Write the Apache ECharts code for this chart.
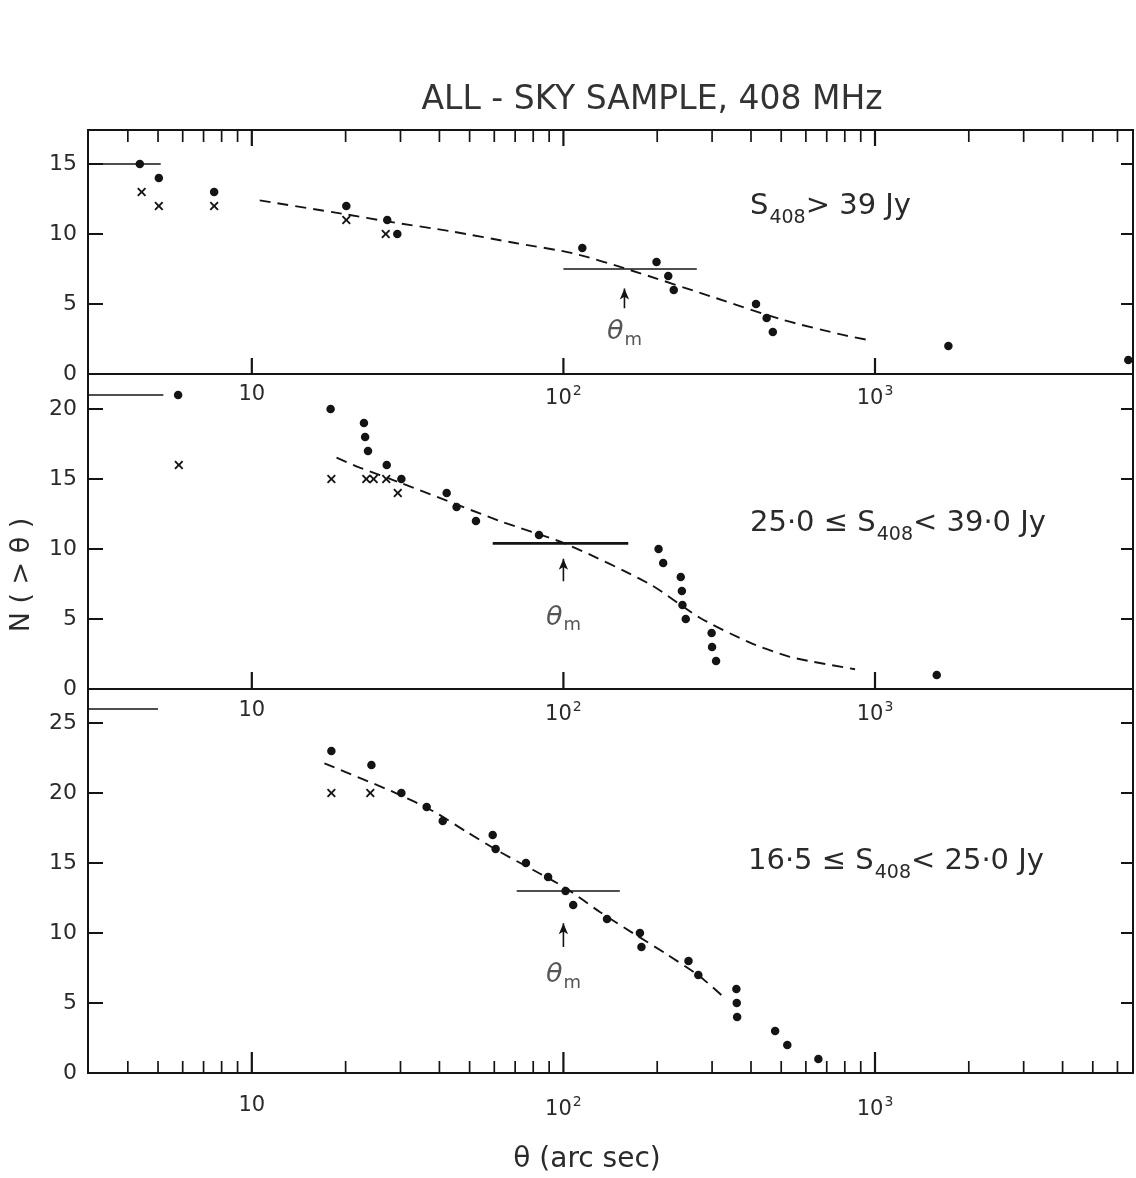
<!DOCTYPE html>
<html>
<head>
<meta charset="utf-8">
<title>All-sky sample, 408 MHz</title>
<script src="https://cdn.jsdelivr.net/npm/echarts@6/dist/echarts.min.js"></script>
<style>
  html, body { margin: 0; padding: 0; background: #ffffff; }
  #chart { width: 1136px; height: 1178px; }
</style>
</head>
<body>
<div id="chart"></div>
<script>
// Cumulative angular-size counts N(>θ) for the all-sky sample at 408 MHz,
// split into three flux-density bins (one panel each, shared log θ axis).

// ---- x-axis tick values (arc sec) ----
const xTickMajor = [10, 100, 1000];
const xTickMinor = [4, 5, 6, 7, 8, 9, 20, 30, 40, 50, 60, 70, 80, 90,
                    200, 300, 400, 500, 600, 700, 800, 900,
                    2000, 3000, 4000, 5000, 6000];

// ---- Panel 1: S408 > 39 Jy ----
const p1Dots = [[4.37, 15], [5.03, 14], [7.57, 13], [20.1, 12], [27.2, 11], [29.3, 10],
                [115, 9], [199, 8], [217, 7], [226, 6], [415, 5], [449, 4], [470, 3],
                [1720, 2], [6500, 1]];
const p1Crosses = [[4.43, 13], [5.03, 12], [7.57, 12], [20.1, 11], [26.9, 10]];
const p1Fit = [[10.6, 12.4], [20.1, 11.4], [27.2, 10.9], [43.3, 10.2], [70.8, 9.34],
               [107.5, 8.62], [163.5, 7.43], [310, 5.41], [508, 3.86], [790, 2.79],
               [951, 2.43]];
const p1Total = [[2.98, 15], [5.1, 15]];
const p1Bar = [[100, 7.5], [268, 7.5]];
const p1ThetaM = 157;

// ---- Panel 2: 25.0 <= S408 < 39.0 Jy ----
const p2Dots = [[5.8, 21], [17.9, 20], [22.9, 19], [23.1, 18], [23.6, 17], [27.1, 16],
                [30.2, 15], [42.2, 14], [45.4, 13], [52.4, 12], [83.5, 11], [202, 10],
                [209, 9], [238, 8], [240, 7], [241, 6], [247, 5], [299, 4], [300, 3],
                [309, 2], [1578, 1]];
const p2Crosses = [[5.83, 16], [18.0, 15], [23.3, 15], [24.6, 15], [27.0, 15], [29.4, 14]];
const p2Fit = [[18.7, 16.52], [22.2, 15.81], [29.9, 14.74], [62.5, 12.0], [102.4, 10.34],
               [189.6, 7.48], [274, 5.09], [397, 3.31], [533, 2.3], [631, 1.95], [863, 1.41]];
const p2Total = [[2.98, 21], [5.2, 21]];
const p2Bar = [[59.3, 10.4], [161.5, 10.4]];
const p2ThetaM = 100;

// ---- Panel 3: 16.5 <= S408 < 25.0 Jy ----
const p3Dots = [[18.0, 23], [24.2, 22], [30.2, 20], [36.4, 19], [41.0, 18], [59.3, 17],
                [60.6, 16], [75.8, 15], [89.3, 14], [101.6, 13], [107.5, 12], [138, 11],
                [176, 10], [178, 9], [252, 8], [271, 7], [359, 6], [360, 5], [361, 4],
                [478, 3], [523, 2], [658, 1]];
const p3Crosses = [[18.0, 20], [24.0, 20]];
const p3Fit = [[17.1, 22.12], [29.1, 19.98], [38.2, 18.7], [48.8, 17.24], [62.5, 15.8],
               [80, 14.5], [102, 13.19], [131, 11.5], [167.5, 9.98], [214, 8.5],
               [274, 6.9], [326, 5.45]];
const p3Total = [[2.98, 26], [5.0, 26]];
const p3Bar = [[70.8, 13.0], [151.7, 13.0]];
const p3ThetaM = 100;

// ---- styling ----
const FONT = 'DejaVu Sans';
const INK = '#141414';
const TXT = '#2a2a2a';
const X_MIN = 2.98, X_MAX = 6730;
const CROSS = 'path://M0,1.5L1.5,0L5,3.5L8.5,0L10,1.5L6.5,5L10,8.5L8.5,10L5,6.5L1.5,10L0,8.5L3.5,5Z';

const panels = [
  { top: 130, height: 244, yMax: 17.43, dots: p1Dots, crosses: p1Crosses, fit: p1Fit,
    total: p1Total, bar: p1Bar, thetaM: p1ThetaM, arrow: [4.7, 6.1], mLabelY: 3.0,
    labelMargin: 10, barWidth: 1.6, topTicks: true, bottomMinor: false, majorLen: 16 },
  { top: 374, height: 315, yMax: 22.5, dots: p2Dots, crosses: p2Crosses, fit: p2Fit,
    total: p2Total, bar: p2Bar, thetaM: p2ThetaM, arrow: [7.7, 9.3], mLabelY: 5.1,
    labelMargin: 11, barWidth: 2.6, topTicks: false, bottomMinor: false, majorLen: 17 },
  { top: 689, height: 384, yMax: 27.43, dots: p3Dots, crosses: p3Crosses, fit: p3Fit,
    total: p3Total, bar: p3Bar, thetaM: p3ThetaM, arrow: [9.0, 10.7], mLabelY: 7.0,
    labelMargin: 22, barWidth: 1.6, topTicks: false, bottomMinor: true, majorLen: 21 }
];

function xLabel(v) {
  const lg = Math.log10(v);
  const e = Math.round(lg);
  if (Math.abs(lg - e) > 1e-6 || e < 1) return '';
  return e === 1 ? '10' : '10{sup|' + e + '}';
}

const grid = [], xAxis = [], yAxis = [], series = [];

panels.forEach((p, i) => {
  grid.push({
    left: 88, width: 1045, top: p.top, height: p.height,
    show: true, borderColor: INK, borderWidth: 2, backgroundColor: 'transparent',
    containLabel: false, outerBoundsMode: 'none'
  });
  xAxis.push({
    gridIndex: i, type: 'log', logBase: 10, min: X_MIN, max: X_MAX, position: 'bottom',
    axisLine: { show: false }, axisTick: { show: false }, splitLine: { show: false },
    minorTick: { show: false }, minorSplitLine: { show: false },
    axisLabel: {
      margin: p.labelMargin, color: TXT, fontSize: 21, fontFamily: FONT,
      formatter: xLabel, hideOverlap: false,
      rich: { sup: { fontSize: 14, fontFamily: FONT, color: TXT, padding: [0, 0, 16, 1] } }
    }
  });
  const yCommon = { gridIndex: i, type: 'value', min: 0, max: p.yMax, interval: 5,
                    splitLine: { show: false }, axisLine: { show: false } };
  yAxis.push(Object.assign({}, yCommon, {
    position: 'left',
    axisTick: { show: true, inside: true, length: 15, lineStyle: { color: INK, width: 2 } },
    axisLabel: { margin: 11, color: TXT, fontSize: 22, fontFamily: FONT,
                 showMaxLabel: false, hideOverlap: false }
  }));
  yAxis.push(Object.assign({}, yCommon, {
    position: 'right',
    axisTick: { show: true, inside: true, length: 12, lineStyle: { color: INK, width: 2 } },
    axisLabel: { show: false }
  }));

  const xi = i, yi = 2 * i;

  // x-axis tick marks drawn on the panel edges
  const ticks = [];
  xTickMajor.forEach(v => ticks.push([v, 0]));
  if (p.bottomMinor) xTickMinor.forEach(v => ticks.push([v, 0]));
  if (p.topTicks) {
    xTickMajor.forEach(v => ticks.push([v, 1]));
    xTickMinor.forEach(v => ticks.push([v, 1]));
  }
  series.push({
    type: 'custom', xAxisIndex: xi, yAxisIndex: yi, silent: true, clip: false,
    data: ticks,
    renderItem: (params, api) => {
      const v = api.value(0), edge = api.value(1);
      const cs = params.coordSys;
      const px = api.coord([v, 0])[0];
      const major = xTickMajor.indexOf(v) >= 0;
      const len = major ? p.majorLen : 12;
      const y0 = edge === 1 ? cs.y : cs.y + cs.height;
      const y1 = edge === 1 ? y0 + len : y0 - len;
      return { type: 'line', shape: { x1: px, y1: y0, x2: px, y2: y1 },
               style: { stroke: INK, lineWidth: major ? 2.2 : 1.7 } };
    }
  });

  // fitted curve
  series.push({
    type: 'line', xAxisIndex: xi, yAxisIndex: yi, data: p.fit, smooth: 0.25,
    symbol: 'none', silent: true,
    lineStyle: { color: INK, width: 1.9, type: [11, 7] }
  });
  // total-count marker line at the left edge
  series.push({
    type: 'line', xAxisIndex: xi, yAxisIndex: yi, data: p.total, symbol: 'none', silent: true,
    lineStyle: { color: INK, width: 1.5 }
  });
  // median-size bar
  series.push({
    type: 'line', xAxisIndex: xi, yAxisIndex: yi, data: p.bar, symbol: 'none', silent: true,
    lineStyle: { color: INK, width: p.barWidth }
  });
  // arrow marking θm
  series.push({
    type: 'line', xAxisIndex: xi, yAxisIndex: yi, silent: true, showSymbol: true,
    data: [
      { value: [p.thetaM, p.arrow[0]], symbol: 'none' },
      { value: [p.thetaM, p.arrow[1]], symbol: 'arrow', symbolSize: [7, 11] }
    ],
    lineStyle: { color: INK, width: 1.6 }, itemStyle: { color: INK, opacity: 1 }
  });
  // θm label
  series.push({
    type: 'scatter', xAxisIndex: xi, yAxisIndex: yi, silent: true,
    data: [[p.thetaM, p.mLabelY]], symbolSize: 0,
    label: {
      show: true, position: 'inside', formatter: '{t|θ}{s|m}',
      rich: {
        t: { fontSize: 27, fontStyle: 'italic', fontFamily: FONT, color: TXT },
        s: { fontSize: 18, fontFamily: FONT, color: TXT, padding: [16, 0, 0, 1] }
      }
    }
  });
  // sources
  series.push({
    type: 'scatter', xAxisIndex: xi, yAxisIndex: yi, data: p.dots, silent: true,
    symbol: 'circle', symbolSize: 8.5, itemStyle: { color: INK, opacity: 1 }
  });
  series.push({
    type: 'scatter', xAxisIndex: xi, yAxisIndex: yi, data: p.crosses, silent: true,
    symbol: CROSS, symbolSize: 9, itemStyle: { color: INK, opacity: 1 }
  });
});

const richMain = { fontSize: 29, fontFamily: FONT, fill: TXT };
const richSub = { fontSize: 19, fontFamily: FONT, fill: TXT, padding: [24, 0, 0, 1] };

function panelText(x, y, text) {
  return {
    type: 'text', x: x, y: y, silent: true,
    style: { text: text, textAlign: 'left', textVerticalAlign: 'middle',
             rich: { a: richMain, b: richSub } }
  };
}

const option = {
  backgroundColor: '#ffffff',
  animation: false,
  grid: grid, xAxis: xAxis, yAxis: yAxis, series: series,
  graphic: [
    { type: 'text', x: 652, y: 100, silent: true,
      style: { text: 'ALL - SKY SAMPLE, 408 MHz', fontSize: 33, fontFamily: FONT, fill: '#333',
               textAlign: 'center', textVerticalAlign: 'middle' } },
    panelText(750, 206, '{a|S}{b|408}{a|> 39 Jy}'),
    panelText(750, 523, '{a|25·0 ≤ S}{b|408}{a|< 39·0 Jy}'),
    panelText(748, 861, '{a|16·5 ≤ S}{b|408}{a|< 25·0 Jy}'),
    { type: 'text', x: 22, y: 575, rotation: Math.PI / 2, silent: true,
      style: { text: 'N ( > θ )', fontSize: 27, fontFamily: FONT, fill: TXT,
               textAlign: 'center', textVerticalAlign: 'middle' } },
    { type: 'text', x: 587, y: 1160, silent: true,
      style: { text: 'θ (arc sec)', fontSize: 28, fontFamily: FONT, fill: TXT,
               textAlign: 'center', textVerticalAlign: 'middle' } }
  ]
};

const chart = echarts.init(document.getElementById('chart'), null, { renderer: 'canvas' });
chart.setOption(option);
</script>
</body>
</html>
